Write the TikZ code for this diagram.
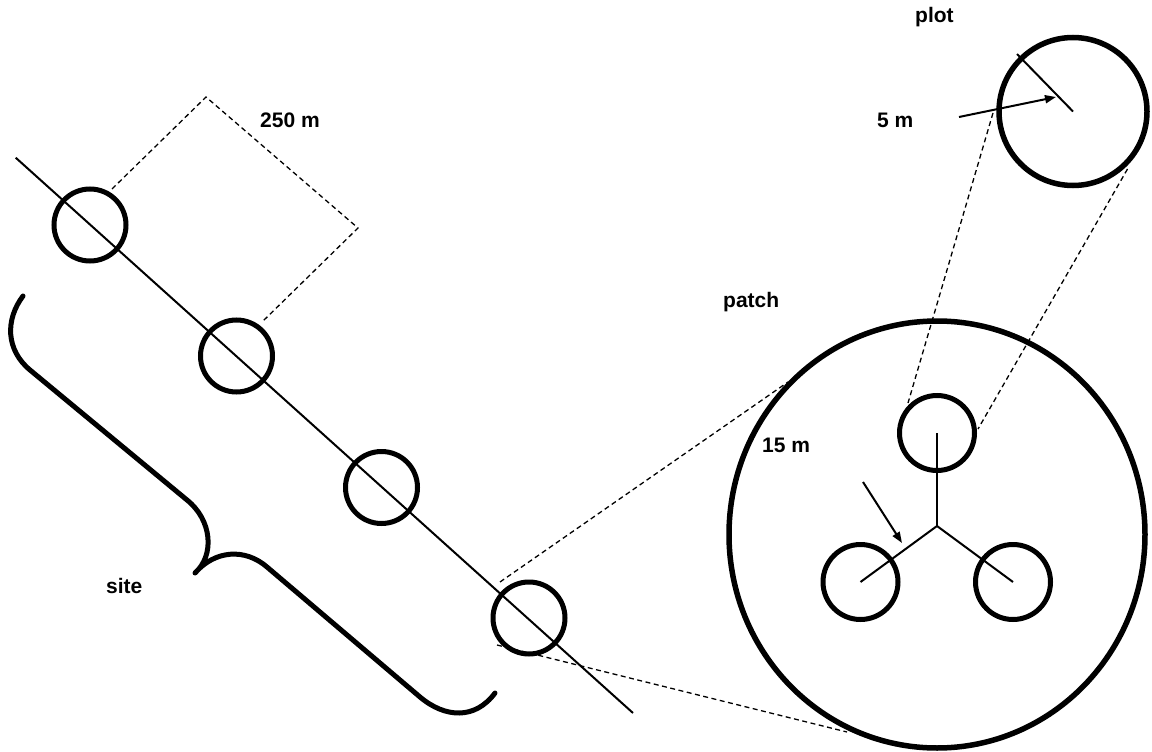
\documentclass[tikz,border=0pt]{standalone}
\usepackage{fontspec}
\setmainfont{Liberation Sans}
\usetikzlibrary{arrows.meta,shapes.geometric}
\begin{document}
\begin{tikzpicture}[x=1pt,y=-1pt,
  lbl/.style={anchor=base west,inner sep=0pt,font=\fontsize{21}{25}\selectfont\bfseries},
  sitecirc/.style={circle,draw,line width=5pt,minimum size=72pt,inner sep=0pt,outer sep=0pt},
  plotcirc/.style={circle,draw,line width=5pt,minimum size=75pt,inner sep=0pt,outer sep=0pt},
  dashline/.style={line width=1.3pt,dash pattern=on 5pt off 3.5pt},
  thinline/.style={line width=2pt},
  arr/.style={line width=2pt,-{Triangle[length=11pt,width=8pt]}},
  bracepath/.style={line width=5pt,line cap=round,line join=round}]
\useasboundingbox (0,0) rectangle (1152,752);
% transect line
\coordinate (lA) at (15.7,157.7);
\coordinate (lB) at (633,713);
\draw[thinline] (lA) -- (lB);
% site circles
\node[sitecirc] (c1) at (90,225) {};
\node[sitecirc] (c2) at (236.5,356) {};
\node[sitecirc] (c3) at (381.5,487.5) {};
\node[sitecirc] (c4) at (529,618) {};
% 250 m dashed square
\coordinate (sq1) at (112,189);
\coordinate (sq2) at (206,97);
\coordinate (sq3) at (358,228);
\coordinate (sq4) at (262,322);
\draw[dashline] (sq1) -- (sq2) -- (sq3) -- (sq4);
\node[lbl] (t250) at (260,127) {250 m};
% brace
\draw[bracepath] (23,296) .. controls (5,320) and (6,350) .. (30,370)
  -- (187,500) .. controls (212,520) and (215,555) .. (195,573)
  .. controls (215,550) and (245,548) .. (267,567)
  -- (420,697) .. controls (445,718) and (475,720) .. (495,693);
\node[lbl] (tsite) at (106,593) {site};
% patch
\node[draw,ellipse,line width=5.5pt,minimum width=416pt,minimum height=427pt,inner sep=0pt,outer sep=0pt] (patch) at (937,534.5) {};
\node[lbl] (tpatch) at (723,307) {patch};
\node[lbl] (t15) at (762,452) {15 m};
% dashed from c4 to patch
\coordinate (d1a) at (500,582);
\coordinate (d1b) at (788,382);
\coordinate (d2a) at (497,645);
\coordinate (d2b) at (847,732);
\draw[dashline] (d1a) -- (d1b);
\draw[dashline] (d2a) -- (d2b);
% tri-branch
\coordinate (tc) at (937,526);
\node[plotcirc] (p1) at (937,433) {};
\node[plotcirc] (p2) at (860.5,582) {};
\node[plotcirc] (p3) at (1013,582) {};
\draw[thinline] (tc) -- (p1.center);
\draw[thinline] (tc) -- (p2.center);
\draw[thinline] (tc) -- (p3.center);
\coordinate (a15s) at (863,482);
\coordinate (a15e) at (902,543);
\draw[arr] (a15s) -- (a15e);
% plot
\node[circle,draw,line width=5.5pt,minimum size=148pt,inner sep=0pt,outer sep=0pt] (plot) at (1073,111.5) {};
\node[lbl] (tplot) at (915,23) {plot};
\node[lbl] (t5) at (877,127) {5 m};
\coordinate (pr) at (1017,54);
\draw[thinline] (plot.center) -- (pr);
\coordinate (a5s) at (959,117);
\coordinate (a5e) at (1056,97);
\draw[arr] (a5s) -- (a5e);
% dashed from plot to p1
\coordinate (e1a) at (993,113);
\coordinate (e1b) at (908,403);
\coordinate (e2a) at (1127.5,169);
\coordinate (e2b) at (978,429);
\draw[dashline] (e1a) -- (e1b);
\draw[dashline] (e2a) -- (e2b);
\end{tikzpicture}
\end{document}
